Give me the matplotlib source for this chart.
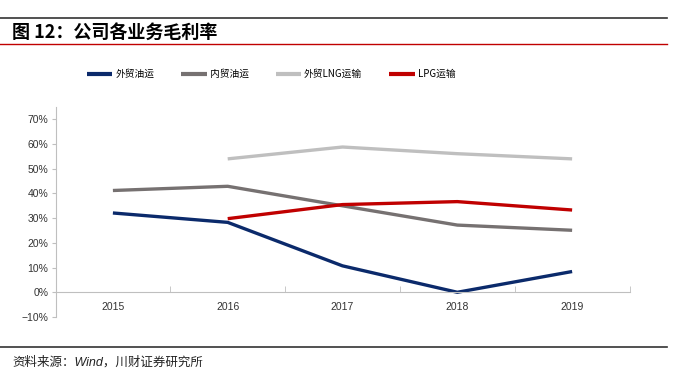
import matplotlib.pyplot as plt
import numpy as np

plt.rcParams['font.family'] = ['Liberation Sans', 'Noto Sans CJK SC']

years = ["2015", "2016", "2017", "2018", "2019"]
waimao_youyun = [32.1, 28.3, 10.7, 0.0, 8.4]
neimao_youyun = [41.2, 42.9, 35.0, 27.2, 25.1]
waimao_lng = [np.nan, 54.0, 58.8, 56.1, 54.0]
lpg = [np.nan, 29.8, 35.5, 36.7, 33.3]

series_names = ["外贸油运", "内贸油运", "外贸LNG运输", "LPG运输"]
series_colors = ["#0b2a6b", "#767171", "#bfbfbf", "#c00000"]

yticks = [-10, 0, 10, 20, 30, 40, 50, 60, 70]

fig = plt.figure(figsize=(6.81, 3.82), dpi=100)
ax = fig.add_axes([0.0815, 0.1702, 0.8429, 0.5497])

x = np.arange(len(years))
for vals, name, col in zip([waimao_youyun, neimao_youyun, waimao_lng, lpg], series_names, series_colors):
    ax.plot(x, vals, color=col, lw=2.4, label=name, solid_capstyle='butt')

ax.set_xlim(-0.5, len(years) - 0.5)
ax.set_ylim(-10, 75)
ax.set_yticks(yticks)
ax.set_yticklabels([f"{v}%".replace("-", "−") for v in yticks])
ax.set_xticks(x)
ax.set_xticklabels(years)
ax.set_xticks(np.arange(-0.5, len(years)), minor=True)

for s in ['top', 'right']:
    ax.spines[s].set_visible(False)
ax.spines['bottom'].set_position(('data', 0))
ax.spines['bottom'].set_color('#bfbfbf')
ax.spines['left'].set_color('#bfbfbf')
ax.tick_params(axis='x', which='major', length=0, pad=7, labelsize=7.5, labelcolor='#333333')
ax.tick_params(axis='x', which='minor', length=4, color='#bfbfbf', direction='in')
ax.tick_params(axis='y', length=3, color='#bfbfbf', labelsize=7.5, labelcolor='#333333', pad=2)

# legend
leg = fig.legend(loc='center', bbox_to_anchor=(0.398, 1 - 74 / 382), ncol=4, frameon=False,
                 prop={'family': ['Noto Sans CJK SC'], 'size': 7},
                 handlelength=2.6, handletextpad=0.3, columnspacing=2.8)
for line in leg.get_lines():
    line.set_linewidth(3)

# title and header lines
fig.add_artist(plt.Line2D([0, 667 / 681], [1 - 18 / 382] * 2, color='#333333', lw=1.2))
fig.text(12 / 681, 1 - 32 / 382, "图 12：公司各业务毛利率", fontsize=13, fontweight='bold',
         family=['Noto Sans CJK SC'], va='center', ha='left')
fig.add_artist(plt.Line2D([0, 667 / 681], [1 - 44 / 382] * 2, color='#c00000', lw=1))

# footer
fig.add_artist(plt.Line2D([0, 667 / 681], [1 - 347 / 382] * 2, color='#333333', lw=1.2))
fig.text(12 / 681, 1 - 362 / 382, "资料来源：Wind，川财证券研究所", fontsize=9, style='italic',
         va='center', ha='left', color='#222222')

fig.savefig("out.png", dpi=100)
